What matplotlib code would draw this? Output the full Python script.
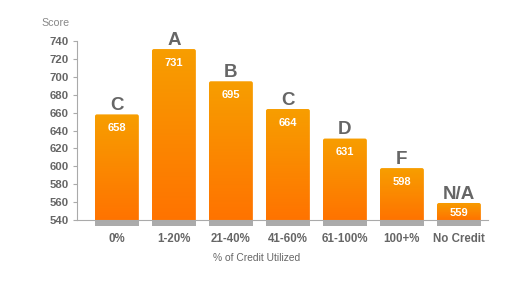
import numpy as np
import matplotlib
matplotlib.use("Agg")
import matplotlib.pyplot as plt
from matplotlib.patches import FancyBboxPatch
from matplotlib.colors import LinearSegmentedColormap

categories = ["0%", "1-20%", "21-40%", "41-60%", "61-100%", "100+%", "No Credit"]
scores = [658, 731, 695, 664, 631, 598, 559]
grades = ["C", "A", "B", "C", "D", "F", "N/A"]
yticks = [540, 560, 580, 600, 620, 640, 660, 680, 700, 720, 740]

plt.rcParams['font.family'] = ['Liberation Sans', 'DejaVu Sans']
grey = "#666666"
axis_grey = "#AAAAAA"

fig = plt.figure(figsize=(5.30, 2.89), dpi=100)
ax = fig.add_axes([77 / 530, 69 / 289, 411 / 530, 179 / 289])
ax.set_xlim(-0.70, 6.51)
ax.set_ylim(540, 740)

width = 0.77
x = np.arange(len(categories))
base = 540
px_per_unit = 179 / 200

# orange gradient, lighter at the top
cmap = LinearSegmentedColormap.from_list("orange", ["#FF7300", "#F79E00"])
grad = np.linspace(0, 1, 256).reshape(-1, 1)

bars = ax.bar(x, [s - base for s in scores], width=width, bottom=base,
              color="none", edgecolor="none")
for bar, score, grade in zip(bars, scores, grades):
    x0, w = bar.get_x(), bar.get_width()
    clip = FancyBboxPatch((x0, base - 10), w, score - base + 10,
                          boxstyle="round,pad=0,rounding_size=0.035",
                          mutation_aspect=64, transform=ax.transData,
                          facecolor="none", edgecolor="none")
    ax.add_patch(clip)
    im = ax.imshow(grad, cmap=cmap, origin="lower", aspect="auto",
                   extent=(x0, x0 + w, base, score), zorder=2)
    im.set_clip_path(clip)
    # value label sits ~13px under the bar top, less on short bars
    off_px = min(13.5, (score - base) * px_per_unit * 0.6)
    ax.annotate(str(score), (x0 + w / 2, score), xytext=(0, -off_px * 0.72),
                textcoords="offset points", ha="center", va="center",
                color="white", fontsize=8, fontweight="bold", zorder=4)
    ax.annotate(grade, (x0 + w / 2, score), xytext=(0, 3),
                textcoords="offset points", ha="center", va="baseline",
                color=grey, fontsize=13.5, fontweight="bold", zorder=4)

# grey strip under each bar
ax.bar(x, [5.5] * len(x), width=width, bottom=base - 6.5, color="#ABABAB",
       edgecolor="none", clip_on=False, zorder=1)

ax.set_xlim(-0.70, 6.51)
ax.set_ylim(540, 740)

for s in ["top", "right"]:
    ax.spines[s].set_visible(False)
ax.spines["left"].set_color(axis_grey)
ax.spines["bottom"].set_color(axis_grey)
ax.spines["bottom"].set_zorder(5)

ax.set_yticks(yticks)
ax.set_yticklabels([str(t) for t in yticks], fontsize=8.2, fontweight="bold", color=grey)
ax.tick_params(axis="y", length=3, color=axis_grey, pad=3)
ax.set_xticks(x)
ax.set_xticklabels(categories, fontsize=8.3, fontweight="bold", color=grey)
ax.tick_params(axis="x", length=0, pad=9)

ax.text(0.438, -0.215, "% of Credit Utilized", transform=ax.transAxes,
        ha="center", va="center", fontsize=7.4, color=grey)
fig.text(70 / 530, 1 - 23 / 289, "Score", ha="right", va="center",
         fontsize=7.7, color="#888888")

fig.savefig("out.png", dpi=100)
